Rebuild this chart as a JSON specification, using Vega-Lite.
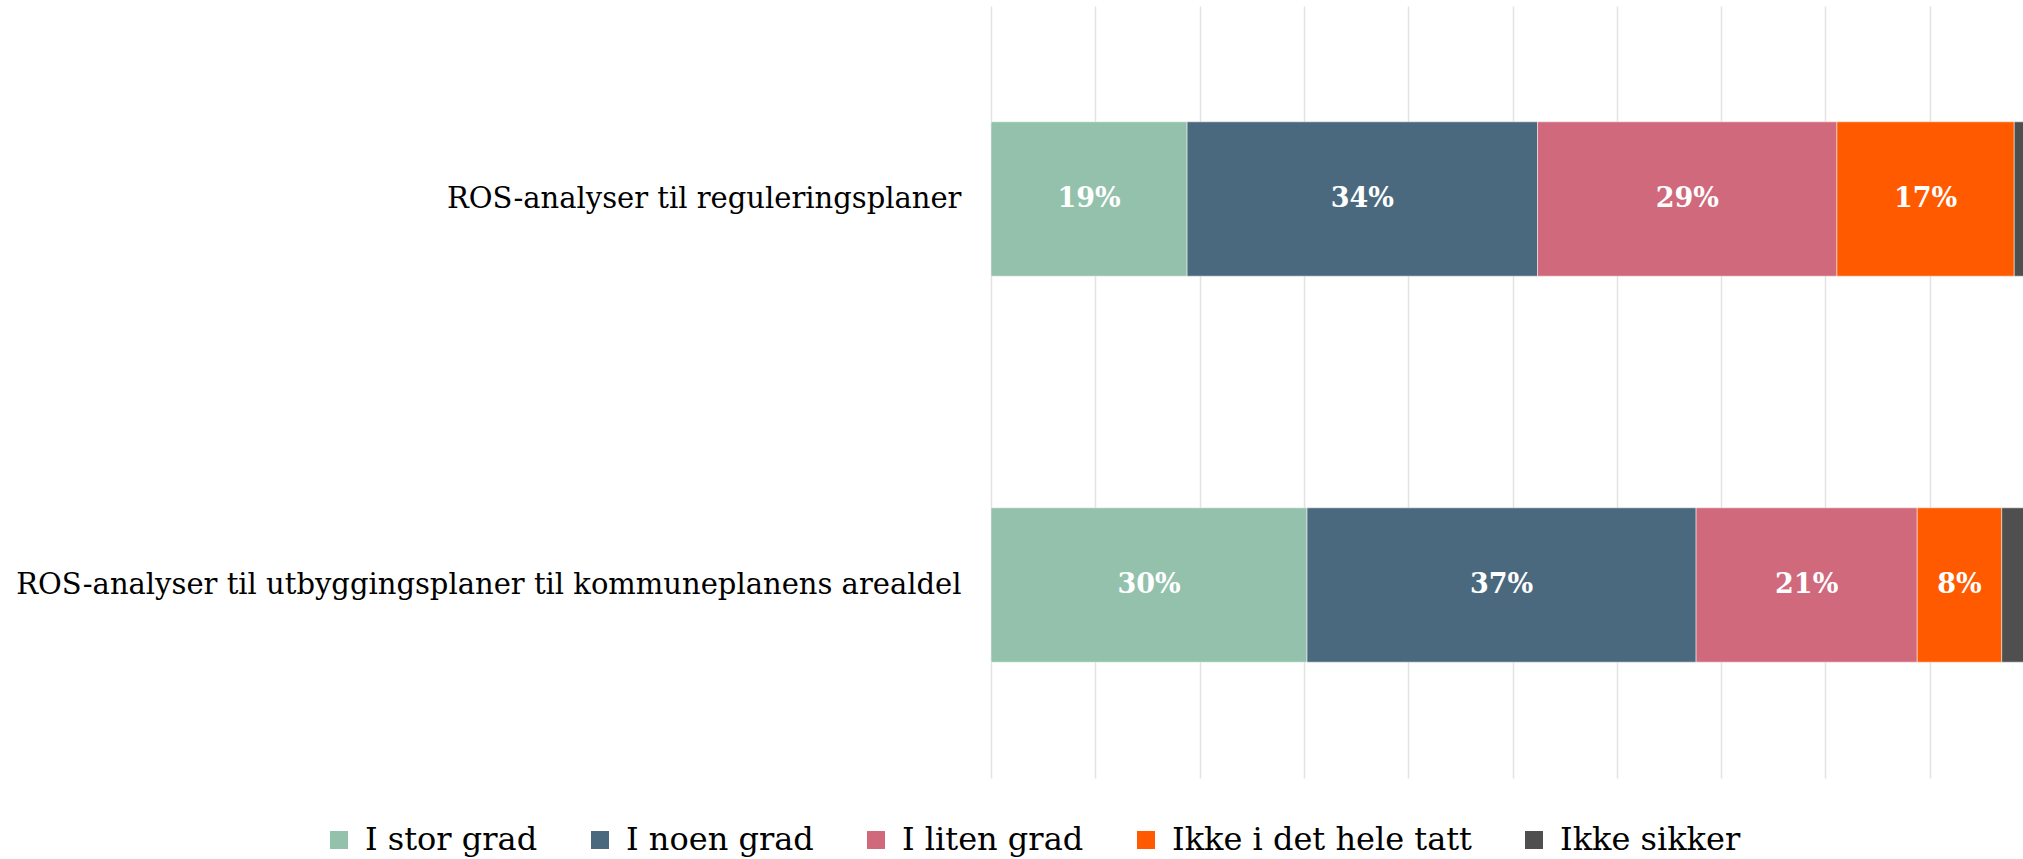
{
  "$schema": "https://vega.github.io/schema/vega-lite/v6.json",
  "width": 1032,
  "height": 772,
  "autosize": {"type": "none"},
  "padding": {"left": 991, "top": 6, "right": 0, "bottom": 81},
  "background": "white",
  "config": {
    "view": {"stroke": null},
    "font": "DejaVu Serif"
  },
  "data": {
    "values": [
      {"item": "ROS-analyser til reguleringsplaner", "category": "I stor grad", "order": 1, "value": 0.188},
      {"item": "ROS-analyser til reguleringsplaner", "category": "I noen grad", "order": 2, "value": 0.336},
      {"item": "ROS-analyser til reguleringsplaner", "category": "I liten grad", "order": 3, "value": 0.287},
      {"item": "ROS-analyser til reguleringsplaner", "category": "Ikke i det hele tatt", "order": 4, "value": 0.170},
      {"item": "ROS-analyser til reguleringsplaner", "category": "Ikke sikker", "order": 5, "value": 0.019},
      {"item": "ROS-analyser til utbyggingsplaner til kommuneplanens arealdel", "category": "I stor grad", "order": 1, "value": 0.303},
      {"item": "ROS-analyser til utbyggingsplaner til kommuneplanens arealdel", "category": "I noen grad", "order": 2, "value": 0.373},
      {"item": "ROS-analyser til utbyggingsplaner til kommuneplanens arealdel", "category": "I liten grad", "order": 3, "value": 0.212},
      {"item": "ROS-analyser til utbyggingsplaner til kommuneplanens arealdel", "category": "Ikke i det hele tatt", "order": 4, "value": 0.081},
      {"item": "ROS-analyser til utbyggingsplaner til kommuneplanens arealdel", "category": "Ikke sikker", "order": 5, "value": 0.031}
    ]
  },
  "transform": [
    {"stack": "value", "groupby": ["item"], "sort": [{"field": "order", "order": "ascending"}], "as": ["x0", "x1"]},
    {"calculate": "(datum.x0 + datum.x1) / 2", "as": "xmid"}
  ],
  "encoding": {
    "y": {
      "field": "item",
      "type": "nominal",
      "sort": null,
      "title": null,
      "scale": {"paddingInner": 0.6, "paddingOuter": 0.3},
      "axis": {
        "domain": false,
        "ticks": false,
        "labelFont": "DejaVu Serif",
        "labelFontSize": 29,
        "labelColor": "#000000",
        "labelPadding": 30,
        "labelLimit": 0
      }
    }
  },
  "layer": [
    {
      "mark": {"type": "bar", "clip": true, "stroke": "white", "strokeWidth": 0.5},
      "encoding": {
        "x": {
          "field": "x0",
          "type": "quantitative",
          "title": null,
          "scale": {"domain": [0, 0.9894], "nice": false, "zero": true},
          "axis": {
            "values": [0, 0.1, 0.2, 0.3, 0.4, 0.5, 0.6, 0.7, 0.8, 0.9],
            "labels": false,
            "ticks": false,
            "domain": false,
            "grid": true,
            "gridColor": "#E2E2E2",
            "gridWidth": 1.5
          }
        },
        "x2": {"field": "x1"},
        "color": {
          "field": "category",
          "type": "nominal",
          "scale": {
            "domain": ["I stor grad", "I noen grad", "I liten grad", "Ikke i det hele tatt", "Ikke sikker"],
            "range": ["#93C1AC", "#4A697E", "#D0697C", "#FF5A00", "#4F4F4F"]
          },
          "legend": {
            "title": null,
            "orient": "none",
            "direction": "horizontal",
            "legendX": -668,
            "legendY": 818,
            "symbolType": "square",
            "symbolSize": 324,
            "symbolStrokeWidth": 0,
            "labelFont": "DejaVu Serif",
            "labelFontSize": 32,
            "labelColor": "#000000",
            "labelOffset": 10,
            "columnPadding": 46,
            "padding": 0,
            "labelLimit": 0
          }
        }
      }
    },
    {
      "transform": [{"filter": "datum.category != 'Ikke sikker'"}],
      "mark": {
        "type": "text",
        "color": "white",
        "font": "DejaVu Serif",
        "fontSize": 27,
        "fontWeight": "bold",
        "align": "center",
        "baseline": "middle"
      },
      "encoding": {
        "x": {"field": "xmid", "type": "quantitative"},
        "text": {"field": "value", "type": "quantitative", "format": ".0%"}
      }
    }
  ]
}
